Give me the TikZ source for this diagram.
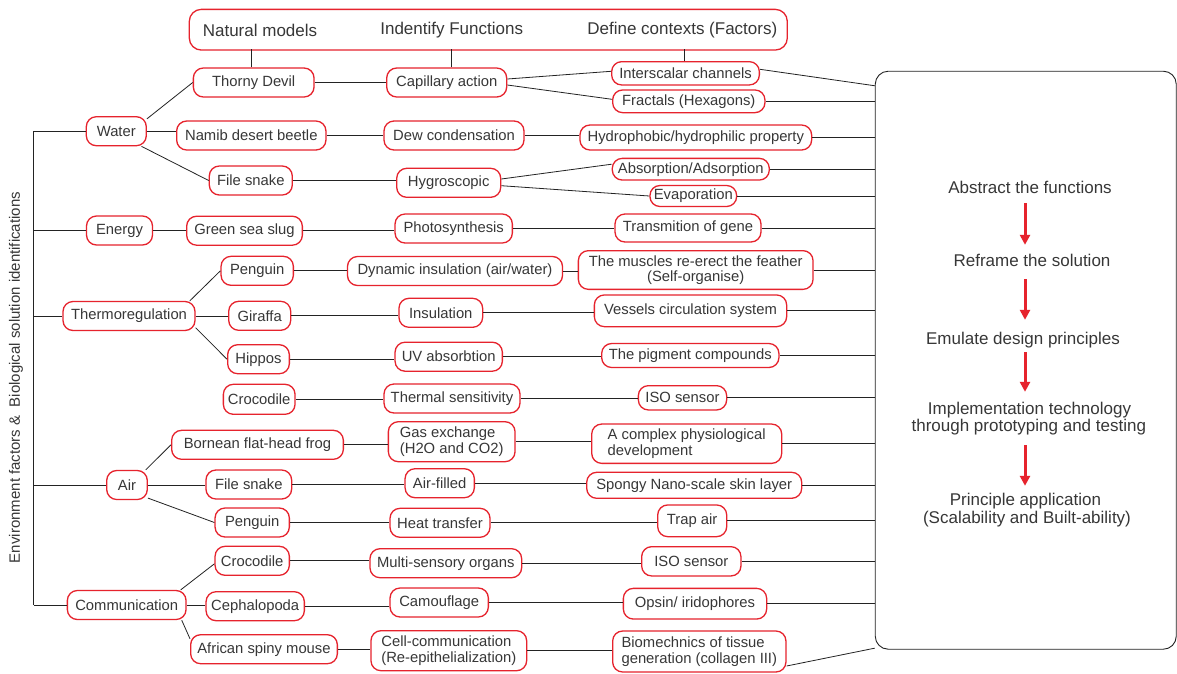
\documentclass[tikz,border=0pt]{standalone}
\usepackage{fontspec}
\setmainfont{Liberation Sans}
\usetikzlibrary{arrows.meta}
\definecolor{myred}{RGB}{230,35,45}
\definecolor{txt}{RGB}{55,55,55}
\definecolor{lnc}{RGB}{35,35,35}
\newcommand\nodefnt{\fontsize{14.8}{15.5}\selectfont}
\newcommand\hdrfnt{\fontsize{17}{20}\selectfont}
\newcommand\rbfnt{\fontsize{17}{18.5}\selectfont}
\newcommand\sidefnt{\fontsize{15}{18}\selectfont}
\tikzset{
  bx/.style={draw=myred, line width=1.3pt, rounded corners=10pt, minimum height=29pt,
    inner xsep=3pt, inner ysep=2pt, text=txt, font=\nodefnt, align=center},
  bxl/.style={bx, align=left},
  hd/.style={text=txt, font=\hdrfnt, inner sep=0pt},
  rt/.style={text=txt, font=\rbfnt, inner sep=0pt, text height=12.5pt, text depth=3.5pt},
  ln/.style={draw=lnc, line width=0.8pt},
  arr/.style={draw=myred, line width=3pt, -{Triangle[width=10pt,length=10pt]}},
}
\begin{document}
\begin{tikzpicture}[x=1pt,y=-1pt]
\fill[white] (0,0) rectangle (1177,673);
\useasboundingbox (0,0) rectangle (1177,673);

% header
\node[draw=myred, line width=1.3pt, rounded corners=12pt, minimum width=598, minimum height=40.7, inner sep=0pt] (hdr) at (488.3,29.7) {};
\node[hd] (h1) at (260,30) {Natural models};
\node[hd] (h2) at (451.7,30) {Indentify Functions};
\node[hd] (h3) at (682.3,30) {Define contexts (Factors)};

% side label
\node[rotate=90, text=txt, font=\sidefnt, inner sep=0pt] (side) at (16,377.5) {Environment factors \&~~Biological solution identifications};

% level 1
\node[bx, minimum width=60] (wat) at (116.3,131.2) {Water};
\node[bx, minimum width=66] (ene) at (119.5,230.5) {Energy};
\node[bx, minimum width=132] (the) at (129,316) {Thermoregulation};
\node[bx, minimum width=40.6] (air) at (127,485) {Air};
\node[bx, minimum width=118.7] (com) at (126.7,605) {Communication};

% level 2
\node[bx, minimum width=120.7] (td) at (253.7,82.5) {Thorny Devil};
\node[bx, minimum width=149.3] (nb) at (251.3,135.5) {Namib desert beetle};
\node[bx, minimum width=83] (fs1) at (250.8,180.5) {File snake};
\node[bx, minimum width=115.7] (gs) at (244.5,230.7) {Green sea slug};
\node[bx, minimum width=72.3] (pg1) at (257.2,270.8) {Penguin};
\node[bx, minimum width=62] (gi) at (259.7,315.8) {Giraffa};
\node[bx, minimum width=61.7] (hi) at (258.5,359.2) {Hippos};
\node[bx, minimum width=71.7, minimum height=30] (cr1) at (259.2,399.3) {Crocodile};
\node[bx, minimum width=171.7] (bf) at (257.5,444.8) {Bornean flat-head frog};
\node[bx, minimum width=85.7] (fs2) at (248.8,484.5) {File snake};
\node[bx, minimum width=74.3] (pg2) at (252.2,522.5) {Penguin};
\node[bx, minimum width=74.3] (cr2) at (252.2,560.8) {Crocodile};
\node[bx, minimum width=98.3] (ce) at (255.2,606.2) {Cephalopoda};
\node[bx, minimum width=146.7] (am) at (264,649.2) {African spiny mouse};

% level 3
\node[bx, minimum width=120] (ca) at (446.7,82.5) {Capillary action};
\node[bx, minimum width=140] (dc) at (454,135.5) {Dew condensation};
\node[bx, minimum width=104] (hy) at (448.7,182.8) {Hygroscopic};
\node[bx, minimum width=117.3] (ph) at (453.7,228.5) {Photosynthesis};
\node[bx, minimum width=215] (di) at (455,271) {Dynamic insulation (air/water)};
\node[bx, minimum width=83.7] (in) at (440.8,312.8) {Insulation};
\node[bx, minimum width=107.3] (uv) at (448.7,356.7) {UV absorbtion};
\node[bx, minimum width=136] (ts) at (452,398.5) {Thermal sensitivity};
\node[bxl, minimum width=126.7, minimum height=40] (ge) at (451.7,441.7) {Gas exchange\\(H2O and CO2)};
\node[bx, minimum width=69.3] (af) at (439.7,483.2) {Air-filled};
\node[bx, minimum width=100] (ht) at (440,522.8) {Heat transfer};
\node[bx, minimum width=151.7] (ms) at (445.8,563.2) {Multi-sensory organs};
\node[bx, minimum width=98.3] (cm) at (439.2,602.5) {Camouflage};
\node[bxl, minimum width=155.7, minimum height=40] (cc) at (448.8,650.7) {Cell-communication\\(Re-epithelialization)};

% level 4
\node[bx, minimum width=147.7, minimum height=23.3] (ic) at (685.5,73.3) {Interscalar channels};
\node[bx, minimum width=152.3, minimum height=22.7] (fr) at (688.8,101.3) {Fractals (Hexagons)};
\node[bx, minimum width=231.7, minimum height=25] (hp) at (695.8,137.5) {Hydrophobic/hydrophilic property};
\node[bx, minimum width=157, minimum height=21.7] (ab) at (690.8,169.2) {Absorption/Adsorption};
\node[bx, minimum width=86.7, minimum height=21] (ev) at (693.3,196) {Evaporation};
\node[bx, minimum width=146, minimum height=28] (tg) at (688,228) {Transmition of gene};
\node[bx, minimum width=234.7, minimum height=38.7] (mu) at (695.7,270) {The muscles re-erect the feather\\(Self-organise)};
\node[bx, minimum width=192.3, minimum height=31.7] (vc) at (690.5,310.8) {Vessels circulation system};
\node[bx, minimum width=177.3, minimum height=24] (pc) at (690.3,355.5) {The pigment compounds};
\node[bx, minimum width=88.3, minimum height=24.3] (is1) at (682.5,397.8) {ISO sensor};
\node[bxl, minimum width=190, minimum height=39.3] (cp) at (686.7,443.7) {A complex physiological\\development};
\node[bx, minimum width=215, minimum height=26] (sp) at (694.2,485.3) {Spongy Nano-scale skin layer};
\node[bx, minimum width=69, minimum height=31.7] (ta) at (692.2,520.8) {Trap air};
\node[bx, minimum width=99.3, minimum height=29.3] (is2) at (691.3,561.3) {ISO sensor};
\node[bx, minimum width=143.3, minimum height=30.7] (op) at (695,603.7) {Opsin/ iridophores};
\node[bxl, minimum width=173.3, minimum height=41] (bm) at (699.3,651.5) {Biomechnics of tissue\\generation (collagen III)};

% big box
\node[draw=lnc, line width=0.9pt, rounded corners=13pt, minimum width=301, minimum height=578, inner sep=0pt] (big) at (1025.75,360.2) {};

% right-box texts
\coordinate (ax) at (1025,0);
\node[rt] (t1) at (1030,188.7) {Abstract the functions};
\node[rt] (t2) at (1032,262.2) {Reframe the solution};
\node[rt] (t3) at (1023,339.5) {Emulate design principles};
\node[rt] (t4a) at (1029.5,409.5) {Implementation technology};
\node[rt] (t4b) at (1028.8,427.2) {through prototyping and testing};
\node[rt] (t5a) at (1025.4,500.5) {Principle application};
\node[rt] (t5b) at (1027,518.8) {(Scalability and Built-ability)};
\draw[arr, shorten <=6.3pt, shorten >=9.2pt] (t1.south -| ax) -- (t2.north -| ax);
\draw[arr, shorten <=8.8pt, shorten >=11.5pt] (t2.south -| ax) -- (t3.north -| ax);
\draw[arr, shorten <=4.5pt, shorten >=9.5pt] (t3.south -| ax) -- (t4a.north -| ax);
\draw[arr, shorten <=9.8pt, shorten >=6.5pt] (t4b.south -| ax) -- (t5a.north -| ax);

% header verticals
\draw[ln] ([xshift=-2pt]td.north) -- ++(0,-18.3);
\draw[ln] ([xshift=4.3pt]ca.north) -- ++(0,-18.3);
\draw[ln] ([xshift=-1.2pt]ic.north) -- ++(0,-11.9);

% spine
\coordinate (spx) at (33.5,0);
\draw[ln] (wat.west -| spx) -- (com.west -| spx);
\foreach \n in {wat,ene,the,air,com} {\draw[ln] (\n.west -| spx) -- (\n.west);}

% level 1 -> 2
\draw[ln] (wat.22) -- (td.west);
\draw[ln] (wat.east) -- (wat.east -| nb.west);
\draw[ln] (wat.-31) -- (fs1.west);
\draw[ln] (ene.east) -- (ene.east -| gs.west);
\draw[ln] (the.14) -- (pg1.west);
\draw[ln] (the.east) -- (the.east -| gi.west);
\draw[ln] (the.-10) -- (hi.west);
\draw[ln] (air.39) -- (bf.west);
\draw[ln] (air.east) -- (air.east -| fs2.west);
\draw[ln] (air.-32) -- (pg2.west);
\draw[ln] ([xshift=-6pt]com.north east) -- ([yshift=-3pt]cr2.west);
\draw[ln] (com.east) -- (com.east -| ce.west);
\draw[ln] ([xshift=-5pt]com.south east) -- (am.172);

% level 2 -> 3 (horizontal)
\foreach \a/\b in {td/ca,nb/dc,fs1/hy,gs/ph,pg1/di,gi/in,hi/uv,cr1/ts,bf/ge,fs2/af,pg2/ht,cr2/ms,ce/cm,am/cc}
  {\draw[ln] (\a.east) -- (\a.east -| \b.west);}

% level 3 -> 4
\draw[ln] ([yshift=3.5pt]ca.east) -- ([yshift=2pt]ic.west);
\draw[ln] ([yshift=-2.5pt]ca.east) -- ([yshift=2pt]fr.west);
\draw[ln] ([yshift=3.8pt]hy.east) -- ([yshift=5pt]ab.west);
\draw[ln] ([yshift=-2.9pt]hy.east) -- (ev.west);
\foreach \a/\b in {dc/hp,ph/tg,di/mu,in/vc,uv/pc,ts/is1,ge/cp,af/sp,ht/ta,ms/is2,cm/op,cc/bm}
  {\draw[ln] (\a.east) -- (\a.east -| \b.west);}

% level 4 -> big box
\draw[ln] ([yshift=4pt]ic.east) -- ([yshift=-15pt]big.north west);
\foreach \n in {fr,hp,ab,ev,tg,mu,vc,pc,is1,cp,sp,ta,is2,op}
  {\draw[ln] (\n.east) -- (\n.east -| big.west);}
\draw[ln] ([yshift=-14.5pt]bm.east) -- ([yshift=1.5pt]big.south west);
\end{tikzpicture}
\end{document}
